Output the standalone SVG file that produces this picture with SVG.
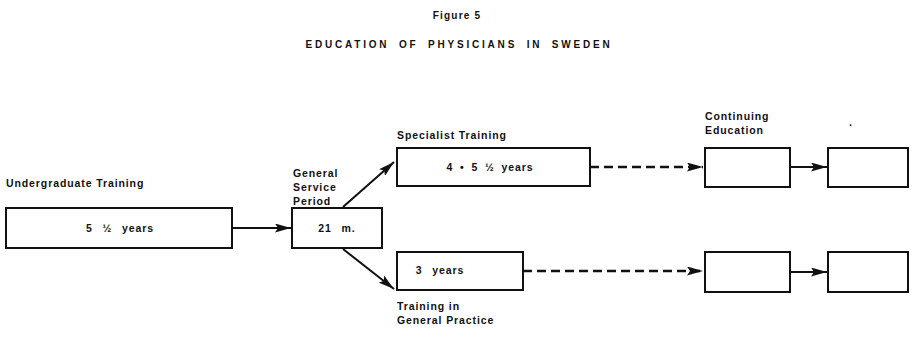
<svg xmlns="http://www.w3.org/2000/svg" width="913" height="361" viewBox="0 0 913 361">
<style>
text{font-family:"Liberation Sans",Arial,sans-serif;fill:#111;font-size:10.5px;font-weight:bold;letter-spacing:0.9px;}
.t{font-size:10px;letter-spacing:1.2px;}
.h{font-size:10px;letter-spacing:2.8px;word-spacing:4px;}
.c{text-anchor:middle;}
.w{word-spacing:6px;}
rect{fill:#fff;stroke:#111;stroke-width:2;}
.ln{stroke:#111;stroke-width:2;fill:none;}
.d{stroke-dasharray:9,5;stroke-width:2.4;}
</style>
<defs>
<marker id="ah" viewBox="0 0 16 9" refX="16" refY="4.5" markerWidth="16" markerHeight="9" markerUnits="userSpaceOnUse" orient="auto">
<path d="M0,0 L16,4.5 L0,9 L3,4.5 Z" fill="#111"/>
</marker>
</defs>
<text class="t c" x="457" y="19">Figure 5</text>
<text class="h c" x="459" y="48">EDUCATION OF PHYSICIANS IN SWEDEN</text>
<g id="connectors">
<line class="ln" x1="232" y1="228" x2="291" y2="228" marker-end="url(#ah)"/>
<line class="ln" x1="343" y1="207" x2="394" y2="162" marker-end="url(#ah)"/>
<line class="ln" x1="343" y1="249" x2="394" y2="289" marker-end="url(#ah)"/>
<line class="ln d" x1="590" y1="167" x2="703" y2="167" marker-end="url(#ah)"/>
<line class="ln" x1="790" y1="167" x2="827" y2="167" marker-end="url(#ah)"/>
<line class="ln d" x1="523" y1="271" x2="703" y2="271" marker-end="url(#ah)"/>
<line class="ln" x1="790" y1="272" x2="827" y2="272" marker-end="url(#ah)"/>
</g>
<g id="undergrad">
<text x="6" y="187">Undergraduate Training</text>
<rect x="6" y="208" width="226" height="40"/>
<text class="c w" x="120" y="232">5 ½ years</text>
</g>
<g id="general">
<text x="293" y="177">General</text>
<text x="293" y="191">Service</text>
<text x="293" y="205">Period</text>
<rect x="292" y="208" width="90" height="40"/>
<text class="c w" x="337" y="232">21 m.</text>
</g>
<g id="specialist">
<text x="397" y="139">Specialist Training</text>
<rect x="397" y="148" width="193" height="38"/>
<text class="c" x="490" y="171" style="word-spacing:3px">4 • 5 ½  years</text>
</g>
<g id="genpractice">
<rect x="397" y="252" width="126" height="38"/>
<text class="c w" x="440" y="274">3 years</text>
<text x="397" y="310">Training in</text>
<text x="397" y="324">General Practice</text>
</g>
<g id="cont1">
<text x="705" y="120">Continuing</text>
<text x="705" y="134">Education</text>
<rect x="705" y="148" width="85" height="39"/>
</g>
<g id="cont2">
<rect x="828" y="148" width="80" height="39"/>
<text x="849" y="126">.</text>
</g>
<g id="cont3">
<rect x="705" y="252" width="85" height="40"/>
</g>
<g id="cont4">
<rect x="828" y="252" width="80" height="40"/>
</g>
</svg>
